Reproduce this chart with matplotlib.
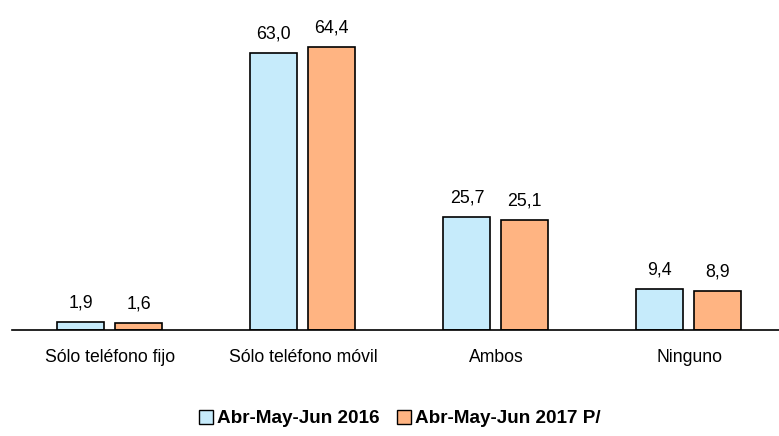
import matplotlib.pyplot as plt
import numpy as np
from matplotlib.patches import Patch

plt.rcParams['font.family'] = ['Liberation Sans', 'DejaVu Sans']

categorias = ["Sólo teléfono fijo", "Sólo teléfono móvil", "Ambos", "Ninguno"]
serie_2016 = [1.9, 63.0, 25.7, 9.4]
serie_2017 = [1.6, 64.4, 25.1, 8.9]
nombres = ["Abr-May-Jun 2016", "Abr-May-Jun 2017 P/"]
colores = ["#C6EBFB", "#FFB482"]

fig = plt.figure(figsize=(7.79, 4.36), dpi=100)
ax = fig.add_axes([0.0154, 0.2431, 0.9846, 0.7064])

x = np.arange(len(categorias))
ancho = 0.243
b1 = ax.bar(x - 0.151, serie_2016, ancho, color=colores[0], edgecolor='black', linewidth=1.2)
b2 = ax.bar(x + 0.149, serie_2017, ancho, color=colores[1], edgecolor='black', linewidth=1.2)

# etiquetas de valor con coma decimal
for barras in (b1, b2):
    for b in barras:
        h = b.get_height()
        ax.text(b.get_x() + b.get_width() / 2, h + 2.3, f"{h:.1f}".replace('.', ','),
                ha='center', va='bottom', fontsize=12.8)

ax.set_xlim(-0.508, 3.466)
ax.set_ylim(0, 70)
ax.set_xticks(x)
ax.set_xticklabels(categorias, fontsize=12.7)
ax.tick_params(axis='x', length=0, pad=14)
ax.set_yticks([])
for s in ['top', 'right', 'left']:
    ax.spines[s].set_visible(False)
ax.spines['bottom'].set_linewidth(1.2)

handles = [Patch(facecolor=colores[0], edgecolor='black', linewidth=1.0),
           Patch(facecolor=colores[1], edgecolor='black', linewidth=1.0)]
fig.legend(handles, nombres, loc='center', bbox_to_anchor=(0.513, 0.04), ncol=2,
           frameon=False, prop={'weight': 'bold', 'size': 13.6},
           handlelength=0.75, handleheight=0.75, handletextpad=0.2, columnspacing=0.9)

fig.savefig('out.png', dpi=100)
